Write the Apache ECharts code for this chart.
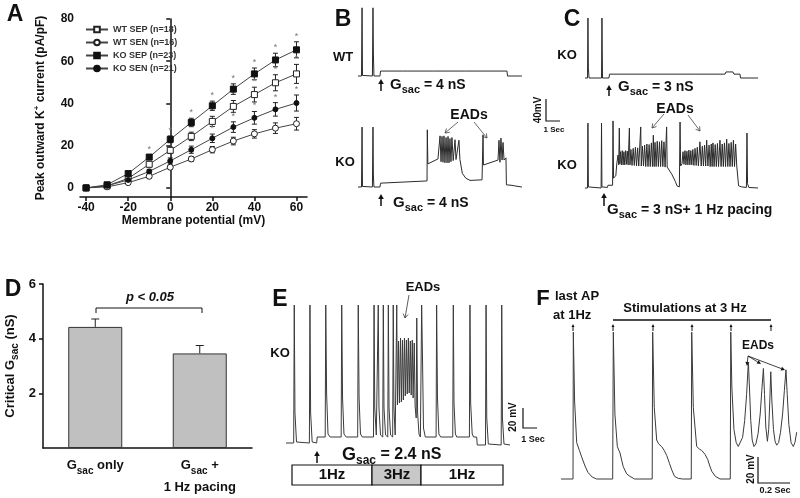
<!DOCTYPE html>
<html><head><meta charset="utf-8">
<script src="https://cdn.jsdelivr.net/npm/echarts@6/dist/echarts.min.js"></script>
<style>html,body{margin:0;padding:0;background:#fff}#c{width:800px;height:498px}</style>
</head><body><div id="c"></div>
<script>
// ---------- Panel A data ----------
const potentials = [-40,-30,-20,-10,0,10,20,30,40,50,60];
const wtSep    = [0,1.0,4.5,11.2,17.8,24.4,31.5,38.6,44.2,49.8,54.0];
const wtSepErr = [0.3,0.5,0.8,1.2,1.5,2.0,2.4,2.8,3.5,3.8,4.5];
const wtSen    = [0,0.5,2.5,5.5,9.8,13.7,18.1,22.2,25.6,28.3,30.4];
const wtSenErr = [0.3,0.4,0.6,0.8,1.0,1.2,1.5,1.8,2.0,2.5,3.0];
const koSep    = [0,1.5,6.8,14.6,23.0,31.0,38.9,46.8,54.0,60.6,65.4];
const koSepErr = [0.3,0.5,0.8,1.2,1.6,2.0,2.2,2.5,2.8,3.2,3.8];
const koSen    = [0,1.0,3.8,7.8,12.8,18.1,23.5,28.8,33.2,37.2,40.2];
const koSenErr = [0.3,0.4,0.7,1.0,1.4,1.7,2.0,2.5,3.0,3.2,3.8];
const starsKoSep = [-10,0,10,20,30,40,50,60];
const starsWtSep = [10,20,30,40,50,60];
const starsKoSen = [0,10,20,30,40,50,60];
const aXTicks = [-40,-20,0,20,40,60];
const aYTicks = [0,20,40,60,80];
const seriesNames = ['WT SEP (n=18)','WT SEN (n=16)','KO SEP (n=23)','KO SEN (n=21)'];

// ---------- Panel D data ----------
const dCategories = ['G_sac only','G_sac +\n1 Hz pacing'];
const dValues = [4.43,3.46];
const dErr = [0.29,0.29];
const dYTicks = [2,4,6];

// ---------- Voltage traces [time s, mV] ----------
const traceB_WT = [[0,-80],[0.25,-80],[0.29,44],[0.32,-79],[1.03,-80],[1.07,44],[1.1,-40],[1.14,-80],[1.57,-80],[1.61,-71],
 [3.2,-71],[3.25,-69],[3.3,-71],[5.4,-71],[5.45,-69],[5.5,-71],[7.7,-71],[7.75,-70],[7.8,-71],[10.64,-71],[10.68,-80],[11.71,-80]];
const traceB_KO = [[0,-80],[0.25,-80],[0.29,29],[0.32,-79],[1.03,-80],[1.07,29],[1.1,-60],[1.14,-80],[1.57,-80],[1.61,-73],[4.93,-69],
 [4.95,24],[4.99,-38],[5.71,-29],[5.86,13],[5.93,-34],[6.0,12],[6.07,-35],[6.14,13],[6.21,-36],[6.29,10],[6.36,-36],[6.43,12],[6.5,-36],
 [6.57,8],[6.64,-34],[6.71,10],[6.8,-32],[6.93,6],[7.0,-30],[7.14,-28],[7.21,5],[7.28,-30],[7.41,-32],[7.45,-55],[7.7,-64],[8.0,-68],
 [8.86,-67],[8.93,15],[8.96,-40],[10.0,-31],[10.07,5],[10.14,-35],[10.21,9],[10.29,-31],[10.36,1],[10.43,-31],[10.57,-27],[10.6,-76],
 [11.0,-77],[11.2,-78],[11.71,-80]];
const traceC_top = [[0,-80],[0.18,-80],[0.21,29],[0.24,-62],[0.29,-80],[1.18,-80],[1.21,29],[1.25,-80],[1.71,-80],[1.75,-73],
 [3.0,-73],[3.05,-71],[3.1,-73],[5.0,-73],[5.05,-71],[5.1,-73],[7.8,-73],[7.85,-71],[7.9,-73],[10.0,-73],[10.07,-69],[10.57,-69],
 [10.64,-73],[11.07,-73],[11.11,-80],[12.36,-80]];
const traceC_bottom = [[0,-80],[0.18,-80],[0.21,38],[0.24,-78],[0.3,-80],[1.15,-80],[1.18,38],[1.21,-78],[1.3,-80],
 [1.6,-79],[1.64,-75],[1.97,-75],[2.0,42],[2.04,-62],[2.2,-58],[2.27,-36],
 [2.36,-20],[2.41,-38],[2.45,29],[2.49,-36],[2.54,-14],[2.6,-38],[2.66,-12],[2.72,-38],[2.78,-14],[2.84,-38],[2.9,-12],[2.96,-37],
 [3.02,-13],[3.08,-38],[3.13,-36],[3.17,29],[3.21,-38],[3.28,-10],[3.36,-39],[3.44,-8],[3.52,-39],[3.6,-6],[3.68,-40],[3.76,-7],
 [3.84,-40],[3.93,-38],[3.98,31],[4.02,-40],[4.1,-4],[4.18,-40],[4.26,-2],[4.34,-41],[4.42,0],[4.5,-41],[4.58,-1],[4.66,-41],
 [4.74,2],[4.82,-41],[4.88,16],[4.94,-41],[5.0,3],[5.08,-41],[5.16,5],[5.24,-41],[5.32,4],[5.4,-41],[5.48,6],[5.56,-41],[5.64,4],
 [5.72,-42],[5.79,-40],[5.83,31],[5.87,-42],[5.95,-45],[6.2,-55],[6.45,-68],[6.57,-76],[6.74,-78],[6.79,40],[6.83,-40],[6.93,-36],
 [7.0,-14],[7.07,-37],[7.14,-12],[7.21,-38],[7.28,-13],[7.35,-38],[7.42,-11],[7.49,-38],[7.56,-12],[7.63,-38],[7.7,-10],[7.78,-39],
 [7.86,-8],[7.94,-39],[8.02,-6],[8.1,-40],[8.21,4],[8.3,-40],[8.38,-4],[8.46,-40],[8.54,-2],[8.62,-40],[8.69,7],[8.78,-40],
 [8.86,-2],[8.94,-41],[9.02,0],[9.08,-41],[9.14,2],[9.22,-41],[9.3,-1],[9.38,-41],[9.46,1],[9.54,-41],[9.64,7],[9.72,-41],
 [9.8,0],[9.88,-41],[9.96,2],[10.04,-41],[10.12,9],[10.2,-41],[10.28,1],[10.36,-41],[10.44,3],[10.52,-41],[10.6,7],[10.68,-41],
 [10.76,0],[10.84,-40],[10.93,-38],[10.97,-76],[11.2,-78],[11.53,-79],[11.57,20],[11.61,-72],[11.7,-79],[12.36,-80]];
const traceE = [[0,-85],[0.55,-85],[0.59,53],[0.64,-55],[0.75,-84],[0.85,-85],[1.67,-85],[1.71,53],[1.76,-55],[1.87,-84],[2.0,-85],
 [2.19,-85],[2.23,-79],[2.8,-79],[2.84,53],[2.9,-35],[3.0,-76],[3.15,-79],[3.94,-79],[3.98,53],[4.04,-40],[4.14,-76],[4.3,-79],
 [5.12,-79],[5.16,53],[5.22,-40],[5.32,-76],[5.45,-79],[6.25,-79],[6.29,53],[6.34,-50],[6.45,-77],[6.55,-79],[6.59,53],[6.64,-50],
 [6.75,-77],[6.91,-79],[6.95,53],[7.0,-50],[7.11,-77],[7.27,-79],[7.31,53],[7.36,-50],[7.47,-77],[7.62,-79],[7.66,53],[7.71,-50],
 [7.8,-77],[7.87,-78],[7.91,53],[7.96,-47],[8.04,17],[8.1,-45],[8.18,20],[8.24,-44],[8.32,18],[8.38,-42],[8.46,20],[8.52,-38],
 [8.6,18],[8.66,-36],[8.74,20],[8.8,-35],[8.88,17],[8.94,-37],[9.02,18],[9.08,-40],[9.16,15],[9.22,-48],[9.3,-60],[9.34,40],
 [9.4,-55],[9.5,-76],[9.6,-79],[9.65,-79],[9.69,53],[9.75,0],[9.82,-70],[9.95,-79],[10.72,-79],[10.76,53],[10.82,-40],[10.92,-76],
 [11.05,-79],[11.91,-79],[11.95,53],[12.0,-45],[12.1,-76],[12.2,-79],[13.1,-79],[13.14,53],[13.19,-45],[13.3,-76],[13.4,-79],
 [13.62,-79],[13.66,-87],[14.25,-87],[14.29,53],[14.34,-60],[14.45,-86],[14.55,-87],[15.37,-87],[15.41,53],[15.46,-60],[15.57,-86],
 [15.7,-87],[16,-87]];
const traceF = [[0,-80],[0.075,-80],[0.077,33],[0.085,-20],[0.098,-52],[0.115,-58],[0.129,-63],[0.15,-70],[0.169,-75],[0.195,-78.5],[0.223,-80],
 [0.323,-80],[0.327,33],[0.337,-30],[0.352,-55],[0.362,-58],[0.369,-60],[0.38,-66],[0.389,-70.5],[0.41,-76],[0.431,-78],[0.46,-80],
 [0.57,-80],[0.573,33],[0.583,-25],[0.598,-50],[0.61,-53],[0.629,-55],[0.645,-58],[0.661,-62],[0.678,-68],[0.692,-73],[0.71,-78],[0.733,-79.5],[0.76,-80],
 [0.814,-80],[0.817,33],[0.827,-25],[0.848,-55],[0.865,-57],[0.879,-58],[0.9,-61],[0.917,-65],[0.93,-70],[0.942,-74],[0.965,-78],[0.994,-80],
 [1.058,-80],[1.061,33],[1.068,-10],[1.081,-42],[1.095,-52],[1.108,-55],[1.12,-54],[1.135,-48],[1.148,-35],[1.16,-15],[1.171,10],
 [1.178,-10],[1.186,-35],[1.195,-50],[1.206,-55],[1.218,-53],[1.232,-45],[1.245,-30],[1.255,-12],[1.265,5],[1.272,-15],[1.28,-40],
 [1.29,-51],[1.298,-42],[1.305,-20],[1.311,2.5],[1.318,-20],[1.328,-42],[1.338,-51],[1.348,-54],[1.36,-52],[1.372,-44],[1.385,-30],
 [1.396,-12],[1.406,4],[1.414,-15],[1.424,-38],[1.438,-52],[1.452,-55],[1.462,-52],[1.473,-44]];

// ---------- helpers ----------
const FONT = '"Liberation Sans", Arial, Helvetica, sans-serif';
const INK = '#111';
function pairs(xs, ys){ return xs.map((x,i)=>[x, ys[i]]); }
function triples(xs, ys, es){ return xs.map((x,i)=>[x, ys[i], es[i]]); }
function starData(list, ys, es){ return list.map(x=>{const i=potentials.indexOf(x); return [x, ys[i]+es[i]];}); }

function T(x,y,text,size,extra){
  const st = Object.assign({text, fill:INK, font:`bold ${size}px ${FONT}`, align:'center', verticalAlign:'middle', textAlign:'center', textVerticalAlign:'middle'}, extra||{});
  return {type:'text', x, y, silent:true, style:st};
}
function richG(x,y,rest,gS,tS,sS,align){
  const L = gS+6;
  return {type:'text', x, y, silent:true, style:{
    text:'{g|G}{s|sac}{t|'+rest+'}', align:align||'left', textAlign:align||'left', verticalAlign:'middle', textVerticalAlign:'middle',
    rich:{
      g:{fill:INK, fontSize:gS, fontWeight:'bold', fontFamily:FONT, lineHeight:L},
      t:{fill:INK, fontSize:tS, fontWeight:'bold', fontFamily:FONT, lineHeight:L},
      s:{fill:INK, fontSize:sS, fontWeight:'bold', fontFamily:FONT, lineHeight:sS, verticalAlign:'bottom'}
    }}};
}
function L(x1,y1,x2,y2,w,c){ return {type:'line', silent:true, shape:{x1,y1,x2,y2}, style:{stroke:c||INK, lineWidth:w||1}}; }
function arrow(x1,y1,x2,y2,h,w,lw,c,open){
  c=c||INK; h=h||5; w=w||2.5;
  const a=Math.atan2(y2-y1,x2-x1);
  const bx=x2-h*Math.cos(a), by=y2-h*Math.sin(a);
  const px=-Math.sin(a)*w, py=Math.cos(a)*w;
  const out=[L(x1,y1,open?x2:bx,open?y2:by,lw||1,c)];
  if(open) out.push({type:'polyline', silent:true, shape:{points:[[bx+px,by+py],[x2,y2],[bx-px,by-py]]}, style:{stroke:c, lineWidth:lw||1, fill:null}});
  else out.push({type:'polygon', silent:true, shape:{points:[[x2,y2],[bx+px,by+py],[bx-px,by-py]]}, style:{fill:c}});
  return out;
}

function errRender(params, api){
  const x=api.value(0), y=api.value(1), e=api.value(2);
  const p0=api.coord([x,y-e]), p1=api.coord([x,y+e]); const w=2.5;
  return {type:'group', children:[
    {type:'line', shape:{x1:p0[0],y1:p0[1],x2:p1[0],y2:p1[1]}, style:{stroke:'#222',lineWidth:1}},
    {type:'line', shape:{x1:p1[0]-w,y1:p1[1],x2:p1[0]+w,y2:p1[1]}, style:{stroke:'#222',lineWidth:1}},
    {type:'line', shape:{x1:p0[0]-w,y1:p0[1],x2:p0[0]+w,y2:p0[1]}, style:{stroke:'#222',lineWidth:1}}
  ]};
}
function starRender(params, api){
  const p=api.coord([api.value(0), api.value(1)]);
  return {type:'text', style:{text:'*', x:p[0], y:p[1]-1, align:'center', verticalAlign:'bottom', textAlign:'center', textVerticalAlign:'bottom', font:`9px ${FONT}`, fill:'#777'}};
}
function barErrRender(params, api){
  const c=api.value(0), v=api.value(1), e=api.value(2);
  const p0=api.coord([c,v]), p1=api.coord([c,v+e]); const w=4;
  return {type:'group', children:[
    {type:'line', shape:{x1:p0[0],y1:p0[1],x2:p1[0],y2:p1[1]}, style:{stroke:'#222',lineWidth:1}},
    {type:'line', shape:{x1:p1[0]-w,y1:p1[1],x2:p1[0]+w,y2:p1[1]}, style:{stroke:'#222',lineWidth:1}}
  ]};
}

const axisTxt = {fontFamily:FONT, fontWeight:'bold', color:INK};
const hiddenX = (min,max)=>({type:'value', min, max, show:false});
const hiddenY = (min,max)=>({type:'value', min, max, show:false});
const traceSeries = (data, idx, col) => ({type:'line', xAxisIndex:idx, yAxisIndex:idx, data, showSymbol:false, symbol:'none', silent:true,
  lineStyle:{color:col||'#2a2a2a', width:1}, z:3});

const option = {
  animation:false,
  textStyle:{fontFamily:FONT},
  legend:{
    data:seriesNames, orient:'vertical', left:80, top:20, itemWidth:22, itemHeight:7, itemGap:4,
    textStyle:{fontSize:9, fontWeight:'bold', color:'#333', fontFamily:FONT}, selectedMode:false
  },
  grid:[
    {left:80, top:19, width:227, height:178},      // A
    {left:41, top:284, width:211, height:168},     // D
    {left:358, top:4.5, width:164, height:77},     // B WT
    {left:358, top:115.5, width:164, height:77},   // B KO
    {left:585, top:6.5, width:175, height:77},     // C top
    {left:585, top:111, width:175, height:82.5},   // C bottom
    {left:286, top:298, width:224, height:155},    // E
    {left:561, top:323, width:236, height:162.5}   // F
  ],
  xAxis:[
    {type:'value', gridIndex:0, min:-42.9, max:65, splitLine:{show:false},
     axisLine:{show:true, onZero:false, lineStyle:{color:INK, width:1.5}},
     axisTick:{show:true, length:4, customValues:aXTicks, lineStyle:{color:INK, width:1.5}},
     axisLabel:Object.assign({fontSize:12, margin:5, customValues:aXTicks}, axisTxt),
     name:'Membrane potential (mV)', nameLocation:'middle', nameGap:17,
     nameTextStyle:{fontSize:12, fontWeight:'bold', color:INK, fontFamily:FONT}},
    {type:'category', gridIndex:1, data:dCategories,
     axisLine:{show:true, lineStyle:{color:INK, width:1.5}}, axisTick:{show:false},
     axisLabel:{interval:0, margin:6, fontSize:13, fontWeight:'bold', color:INK, fontFamily:FONT, lineHeight:22,
       formatter:(v)=>v.replace('G_sac','{g|G}{s|sac}'),
       rich:{g:{fontSize:13, fontWeight:'bold', color:INK, fontFamily:FONT, lineHeight:22},
             s:{fontSize:10, fontWeight:'bold', color:INK, fontFamily:FONT, lineHeight:10, verticalAlign:'bottom'}}}},
    Object.assign({gridIndex:2}, hiddenX(0,11.714)),
    Object.assign({gridIndex:3}, hiddenX(0,11.714)),
    Object.assign({gridIndex:4}, hiddenX(0,12.5)),
    Object.assign({gridIndex:5}, hiddenX(0,12.5)),
    Object.assign({gridIndex:6}, hiddenX(0,16)),
    Object.assign({gridIndex:7}, hiddenX(0,1.475))
  ],
  yAxis:[
    {type:'value', gridIndex:0, min:-4.3, max:80, splitLine:{show:false},
     axisLine:{show:true, lineStyle:{color:INK, width:1.5}},
     axisTick:{show:true, length:4, customValues:aYTicks, lineStyle:{color:INK, width:1.5}},
     axisLabel:Object.assign({fontSize:12, margin:6, customValues:aYTicks}, axisTxt),
     name:'Peak outward K{sup|+} current (pA/pF)', nameLocation:'middle', nameGap:31,
     nameTextStyle:{fontSize:12, fontWeight:'bold', color:INK, fontFamily:FONT, lineHeight:16,
       rich:{sup:{fontSize:8, fontWeight:'bold', color:INK, lineHeight:8, verticalAlign:'top'}}}},
    {type:'value', gridIndex:1, min:0, max:6, splitLine:{show:false},
     axisLine:{show:true, lineStyle:{color:INK, width:1.5}},
     axisTick:{show:true, length:4, customValues:dYTicks, lineStyle:{color:INK, width:1.5}},
     axisLabel:Object.assign({fontSize:13, margin:7, customValues:dYTicks}, axisTxt),
     name:'Critical G{s|sac} (nS)', nameLocation:'middle', nameGap:23,
     nameTextStyle:{fontSize:13, fontWeight:'bold', color:INK, fontFamily:FONT, lineHeight:19,
       rich:{s:{fontSize:10, fontWeight:'bold', color:INK, fontFamily:FONT, lineHeight:10, verticalAlign:'bottom'}}}},
    Object.assign({gridIndex:2}, hiddenY(-90,50)),
    Object.assign({gridIndex:3}, hiddenY(-90,50)),
    Object.assign({gridIndex:4}, hiddenY(-90,50)),
    Object.assign({gridIndex:5}, hiddenY(-90,60)),
    Object.assign({gridIndex:6}, hiddenY(-95,60)),
    Object.assign({gridIndex:7}, hiddenY(-85,40))
  ],
  series:[
    {type:'custom', xAxisIndex:0, yAxisIndex:0, renderItem:errRender, data:triples(potentials, wtSep, wtSepErr), encode:{x:0,y:1}, silent:true, z:1},
    {type:'custom', xAxisIndex:0, yAxisIndex:0, renderItem:errRender, data:triples(potentials, wtSen, wtSenErr), encode:{x:0,y:1}, silent:true, z:1},
    {type:'custom', xAxisIndex:0, yAxisIndex:0, renderItem:errRender, data:triples(potentials, koSep, koSepErr), encode:{x:0,y:1}, silent:true, z:1},
    {type:'custom', xAxisIndex:0, yAxisIndex:0, renderItem:errRender, data:triples(potentials, koSen, koSenErr), encode:{x:0,y:1}, silent:true, z:1},
    {name:seriesNames[0], type:'line', xAxisIndex:0, yAxisIndex:0, data:pairs(potentials, wtSep), symbol:'rect', symbolSize:6,
     lineStyle:{color:'#444', width:1}, itemStyle:{color:'#fff', borderColor:'#222', borderWidth:1}, z:3},
    {name:seriesNames[1], type:'line', xAxisIndex:0, yAxisIndex:0, data:pairs(potentials, wtSen), symbol:'circle', symbolSize:6,
     lineStyle:{color:'#444', width:1}, itemStyle:{color:'#fff', borderColor:'#222', borderWidth:1}, z:3},
    {name:seriesNames[2], type:'line', xAxisIndex:0, yAxisIndex:0, data:pairs(potentials, koSep), symbol:'rect', symbolSize:6,
     lineStyle:{color:'#444', width:1}, itemStyle:{color:'#111', borderColor:'#111', borderWidth:1}, z:3},
    {name:seriesNames[3], type:'line', xAxisIndex:0, yAxisIndex:0, data:pairs(potentials, koSen), symbol:'circle', symbolSize:5,
     lineStyle:{color:'#444', width:1}, itemStyle:{color:'#111', borderColor:'#111', borderWidth:1}, z:3},
    {type:'custom', xAxisIndex:0, yAxisIndex:0, renderItem:starRender, data:starData(starsKoSep, koSep, koSepErr), encode:{x:0,y:1}, silent:true},
    {type:'custom', xAxisIndex:0, yAxisIndex:0, renderItem:starRender, data:starData(starsWtSep, wtSep, wtSepErr), encode:{x:0,y:1}, silent:true},
    {type:'custom', xAxisIndex:0, yAxisIndex:0, renderItem:starRender, data:starData(starsKoSen, koSen, koSenErr), encode:{x:0,y:1}, silent:true},
    {type:'bar', xAxisIndex:1, yAxisIndex:1, data:dValues, barWidth:54, silent:true,
     itemStyle:{color:'#c0c0c0', borderColor:'#333', borderWidth:1}},
    {type:'custom', xAxisIndex:1, yAxisIndex:1, renderItem:barErrRender, data:dValues.map((v,i)=>[i,v,dErr[i]]), encode:{x:0,y:1}, silent:true, z:1},
    traceSeries(traceB_WT,2), traceSeries(traceB_KO,3), traceSeries(traceC_top,4), traceSeries(traceC_bottom,5),
    traceSeries(traceE,6,'#3a3a3a'), traceSeries(traceF,7,'#3a3a3a')
  ]
};

// ---------- annotations ----------
const g = [];
g.push(T(15,15,'A',23), T(343,20,'B',23), T(572,20,'C',23), T(13,290,'D',23), T(280,300,'E',23), T(543,299,'F',22));
// B
g.push(T(343,57,'WT',13), T(345,162,'KO',13));
g.push(richG(390,85,' = 4 nS',15,14,11));
g.push(...arrow(381,91,381,79,5,2.8,1.5));
g.push(richG(393,203,' = 4 nS',15,14,11));
g.push(...arrow(381,206,381,194,5,2.8,1.5));
g.push(T(469,115,'EADs',14));
g.push(...arrow(458,122,445,133,4,2.5,0.8,'#444',true));
g.push(...arrow(474,122,487,138,4,2.5,0.8,'#444',true));
// B/C scale bar
g.push({type:'polyline', silent:true, shape:{points:[[546,99],[546,121],[560,121]]}, style:{stroke:INK, lineWidth:1.2, fill:null}});
g.push(Object.assign(T(538,110,'40mV',10),{rotation:Math.PI/2}));
g.push(T(554,130,'1 Sec',8));
// C
g.push(T(567,55,'KO',13), T(567,165,'KO',13));
g.push(richG(618,87,' = 3 nS',15,14,11));
g.push(...arrow(609,96,609,85,5,2.8,1.5));
g.push(richG(607,210,' = 3 nS+ 1 Hz pacing',15,14,11));
g.push(...arrow(604,206,604,193,5,2.8,1.5));
g.push(T(675,109,'EADs',14));
g.push(...arrow(664,114,652,128,4,2.5,0.8,'#444',true));
g.push(...arrow(688,115,700,131,4,2.5,0.8,'#444',true));
// D bracket
g.push({type:'polyline', silent:true, shape:{points:[[96,313],[96,308],[202,308],[202,313]]}, style:{stroke:INK, lineWidth:1, fill:null}});
g.push(T(150,297,'p < 0.05',13,{font:`italic bold 13px ${FONT}`}));
// E
g.push(T(280,353,'KO',13));
g.push(T(423,287,'EADs',13));
g.push(...arrow(409,295,405,318,4,2.5,0.8,'#333',true));
g.push(richG(342,455,' = 2.4 nS',18,16,12));
g.push(...arrow(317,463,317,451,5,2.8,1.5));
g.push({type:'rect', silent:true, shape:{x:292,y:465,width:80,height:20}, style:{fill:'#fff', stroke:INK, lineWidth:1.2}});
g.push({type:'rect', silent:true, shape:{x:372,y:465,width:49,height:20}, style:{fill:'#c8c8c8', stroke:INK, lineWidth:1.2}});
g.push({type:'rect', silent:true, shape:{x:421,y:465,width:82,height:20}, style:{fill:'#fff', stroke:INK, lineWidth:1.2}});
g.push(T(332,475,'1Hz',15), T(397,475,'3Hz',15), T(462,475,'1Hz',15));
g.push({type:'polyline', silent:true, shape:{points:[[523,408],[523,428],[537,428]]}, style:{stroke:INK, lineWidth:1.2, fill:null}});
g.push(Object.assign(T(513,417,'20 mV',10),{rotation:Math.PI/2}));
g.push(T(533,440,'1 Sec',9));
// F
g.push(T(555,296,'last AP',13,{align:'left',textAlign:'left'}));
g.push(T(553,315,'at 1Hz',13,{align:'left',textAlign:'left'}));
g.push(T(685,308,'Stimulations at 3 Hz',13));
g.push(L(613,320,771,320,1.5));
[573,613,653,692,731,771].forEach(x=>g.push(...arrow(x,331,x,324,3,1.5,1)));
g.push(T(758,346,'EADs',12));
g.push(...arrow(748,356,747,366,4,2,0.8,INK,false));
g.push(...arrow(748,356,761,364,4,2,0.8,INK,false));
g.push(...arrow(748,356,785,370,4,2,0.8,INK,false));
g.push({type:'polyline', silent:true, shape:{points:[[758,457],[758,483],[790,483]]}, style:{stroke:INK, lineWidth:1.2, fill:null}});
g.push(Object.assign(T(751,469,'20 mV',10),{rotation:Math.PI/2}));
g.push(T(775,491,'0.2 Sec',9));
option.graphic = {elements:g};

const chart = echarts.init(document.getElementById('c'), null, {renderer:'canvas'});
chart.setOption(option);
</script></body></html>
